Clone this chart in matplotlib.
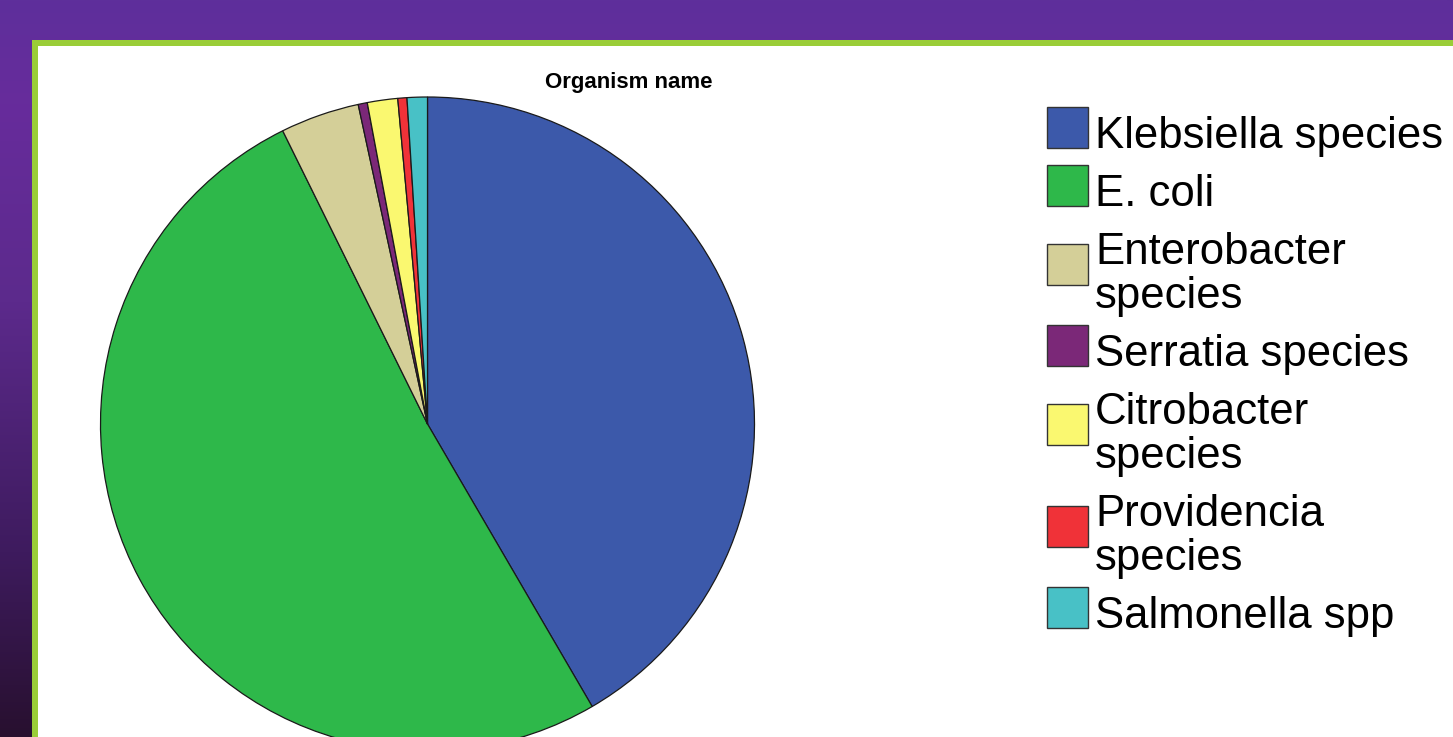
import matplotlib
matplotlib.use("Agg")
import matplotlib.pyplot as plt
from matplotlib.patches import Rectangle
from matplotlib.colors import LinearSegmentedColormap
import numpy as np

plt.rcParams["font.family"] = ["Liberation Sans", "DejaVu Sans"]

# ── Data (percent of isolates) ───────────────────────────────────────────────
organisms = ["Klebsiella species", "E. coli", "Enterobacter\nspecies",
             "Serratia species", "Citrobacter\nspecies", "Providencia\nspecies",
             "Salmonella spp"]
shares = [41.6, 51.1, 3.9, 0.45, 1.5, 0.45, 1.0]
colors = ["#3C59AA", "#2EB84A", "#D4CF98", "#7B2878", "#FAF870", "#F03238", "#48C1C6"]

W, H = 1453, 737
fig = plt.figure(figsize=(W / 100, H / 100), dpi=100)

# ── Slide background: purple gradient, green frame, white panel ──────────────
bg = fig.add_axes([0, 0, 1, 1], zorder=0)
bg_cmap = LinearSegmentedColormap.from_list(
    "slide", [(0.0, "#5E2F9B"), (0.14, "#672C9C"), (0.41, "#5C2A8C"),
              (0.75, "#3E1B5E"), (1.0, "#28102F")])
bg.imshow(np.linspace(0, 1, 256).reshape(-1, 1), aspect="auto", cmap=bg_cmap,
          extent=[0, 1, 0, 1], origin="upper")
bg.add_patch(Rectangle((32 / W, 0), 1, 1 - 40 / H, color="#9ACD38", lw=0))
bg.add_patch(Rectangle((38 / W, 0), 1, 1 - 46 / H, color="white", lw=0))
bg.set_xlim(0, 1)
bg.set_ylim(0, 1)
bg.axis("off")

# ── Pie ──────────────────────────────────────────────────────────────────────
cx, cy, r = 427.5, 424, 327
ax = fig.add_axes([(cx - r) / W, (H - cy - r) / H, 2 * r / W, 2 * r / H], zorder=1)
wedges, _ = ax.pie(shares, colors=colors, startangle=90, counterclock=False,
                   radius=1, wedgeprops=dict(edgecolor="#1a1a1a", linewidth=0.9))
ax.set_xlim(-1, 1)
ax.set_ylim(-1, 1)
ax.set_aspect("auto")
ax.axis("off")

fig.text(629 / W, 1 - 88 / H, "Organism name", ha="center", va="baseline",
         fontsize=16, fontweight="bold", zorder=3)

# ── Legend (drawn by hand to match the SPSS layout) ──────────────────────────
ENTRY_STEP = 58   # px between baselines of consecutive entries
LINE_STEP = 44    # px between lines inside one entry
BOX = 41          # legend swatch size, px
base = 148        # baseline of the first entry, px from top
for name, col in zip(organisms, colors):
    lines = name.split("\n")
    if len(lines) == 1:
        box_top = base - BOX
    else:
        box_top = base - BOX / 2
    fig.patches.append(Rectangle((1047 / W, 1 - (box_top + BOX) / H), BOX / W, BOX / H,
                                 transform=fig.transFigure, facecolor=col,
                                 edgecolor="#333333", lw=1.0, zorder=3))
    for k, line in enumerate(lines):
        fig.text(1095 / W, 1 - (base + k * LINE_STEP) / H, line, ha="left",
                 va="baseline", fontsize=31.5, zorder=3)
    base += (len(lines) - 1) * LINE_STEP + ENTRY_STEP

fig.savefig("out.png", dpi=100)
